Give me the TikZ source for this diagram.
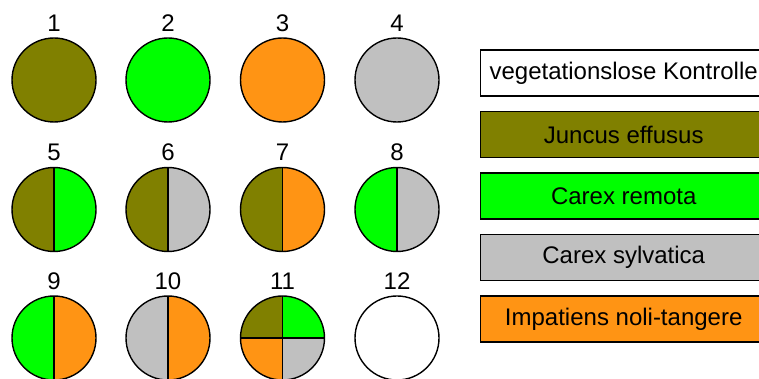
\documentclass[tikz,border=0pt]{standalone}
\usepackage{fontspec}
\setmainfont{Liberation Sans}
\usepackage{tikz}
\usetikzlibrary{positioning}

\definecolor{juncus}{HTML}{808000}
\definecolor{remota}{HTML}{00FF00}
\definecolor{sylvatica}{HTML}{C0C0C0}
\definecolor{impatiens}{HTML}{FF9414}

\begin{document}
\begin{tikzpicture}[x=1pt, y=1pt,
    disc/.style={circle, draw=black, line width=1.4pt, minimum size=84pt, inner sep=0pt},
    split/.style={path picture={
        \fill[#1] (path picture bounding box.north) rectangle (path picture bounding box.south east);
        \draw[line width=1.4pt] (path picture bounding box.north) -- (path picture bounding box.south);}},
    nr/.style={font=\fontsize{24}{28}\selectfont, inner sep=0pt, outer sep=0pt},
    key/.style={draw=black, line width=1.4pt, minimum height=46pt, anchor=west,
        inner sep=0pt, font=\fontsize{24}{28}\selectfont}]

\useasboundingbox (0,0) rectangle (759,379);

% --- ROW 1: SINGLE SPECIES ---
\node[disc, fill=juncus]    (c1) at (54, 299) {};
\node[disc, fill=remota]    (c2) at (168, 299) {};
\node[disc, fill=impatiens] (c3) at (282.5, 299) {};
\node[disc, fill=sylvatica] (c4) at (397, 299) {};

% --- ROW 2: TWO SPECIES ---
\node[disc, fill=juncus, split=remota]    (c5) at (54, 169.5) {};
\node[disc, fill=juncus, split=sylvatica] (c6) at (168, 169.5) {};
\node[disc, fill=juncus, split=impatiens] (c7) at (282.5, 169.5) {};
\node[disc, fill=remota, split=sylvatica] (c8) at (397, 169.5) {};

% --- ROW 3: MIXTURES AND CONTROL ---
\node[disc, fill=remota, split=impatiens]    (c9) at (54, 41) {};
\node[disc, fill=sylvatica, split=impatiens] (c10) at (168, 41) {};
\node[disc, fill=juncus, path picture={
        \fill[remota] (path picture bounding box.north) rectangle (path picture bounding box.east);
        \fill[impatiens] (path picture bounding box.west) rectangle (path picture bounding box.south);
        \fill[sylvatica] (path picture bounding box.center) rectangle (path picture bounding box.south east);
        \draw[line width=1.4pt] (path picture bounding box.north) -- (path picture bounding box.south);
        \draw[line width=1.4pt] (path picture bounding box.west) -- (path picture bounding box.east);}]
      (c11) at (282.5, 41) {};
\node[disc, fill=white] (c12) at (397, 41) {};

% Numbers
\node[nr, above=6pt of c1] (n1) {1};
\node[nr, above=6pt of c2] (n2) {2};
\node[nr, above=6pt of c3] (n3) {3};
\node[nr, above=6pt of c4] (n4) {4};
\node[nr, above=6pt of c5] (n5) {5};
\node[nr, above=6pt of c6] (n6) {6};
\node[nr, above=6pt of c7] (n7) {7};
\node[nr, above=6pt of c8] (n8) {8};
\node[nr, above=6pt of c9] (n9) {9};
\node[nr, above=6pt of c10] (n10) {10};
\node[nr, above=6pt of c11] (n11) {11};
\node[nr, above=6pt of c12] (n12) {12};

% --- LEGEND (boxes run past the right edge) ---
\node[key, fill=white]     (k0) at (480, 306)   {\makebox[286pt]{vegetationslose Kontrolle}\hspace{20pt}};
\node[key, fill=juncus]    (k1) at (480, 244.5) {\makebox[286pt]{Juncus effusus}\hspace{20pt}};
\node[key, fill=remota]    (k2) at (480, 183)   {\makebox[286pt]{Carex remota}\hspace{20pt}};
\node[key, fill=sylvatica] (k3) at (480, 121.5) {\makebox[286pt]{Carex sylvatica}\hspace{20pt}};
\node[key, fill=impatiens] (k4) at (480, 60)    {\makebox[286pt]{Impatiens noli-tangere}\hspace{20pt}};

\end{tikzpicture}
\end{document}
